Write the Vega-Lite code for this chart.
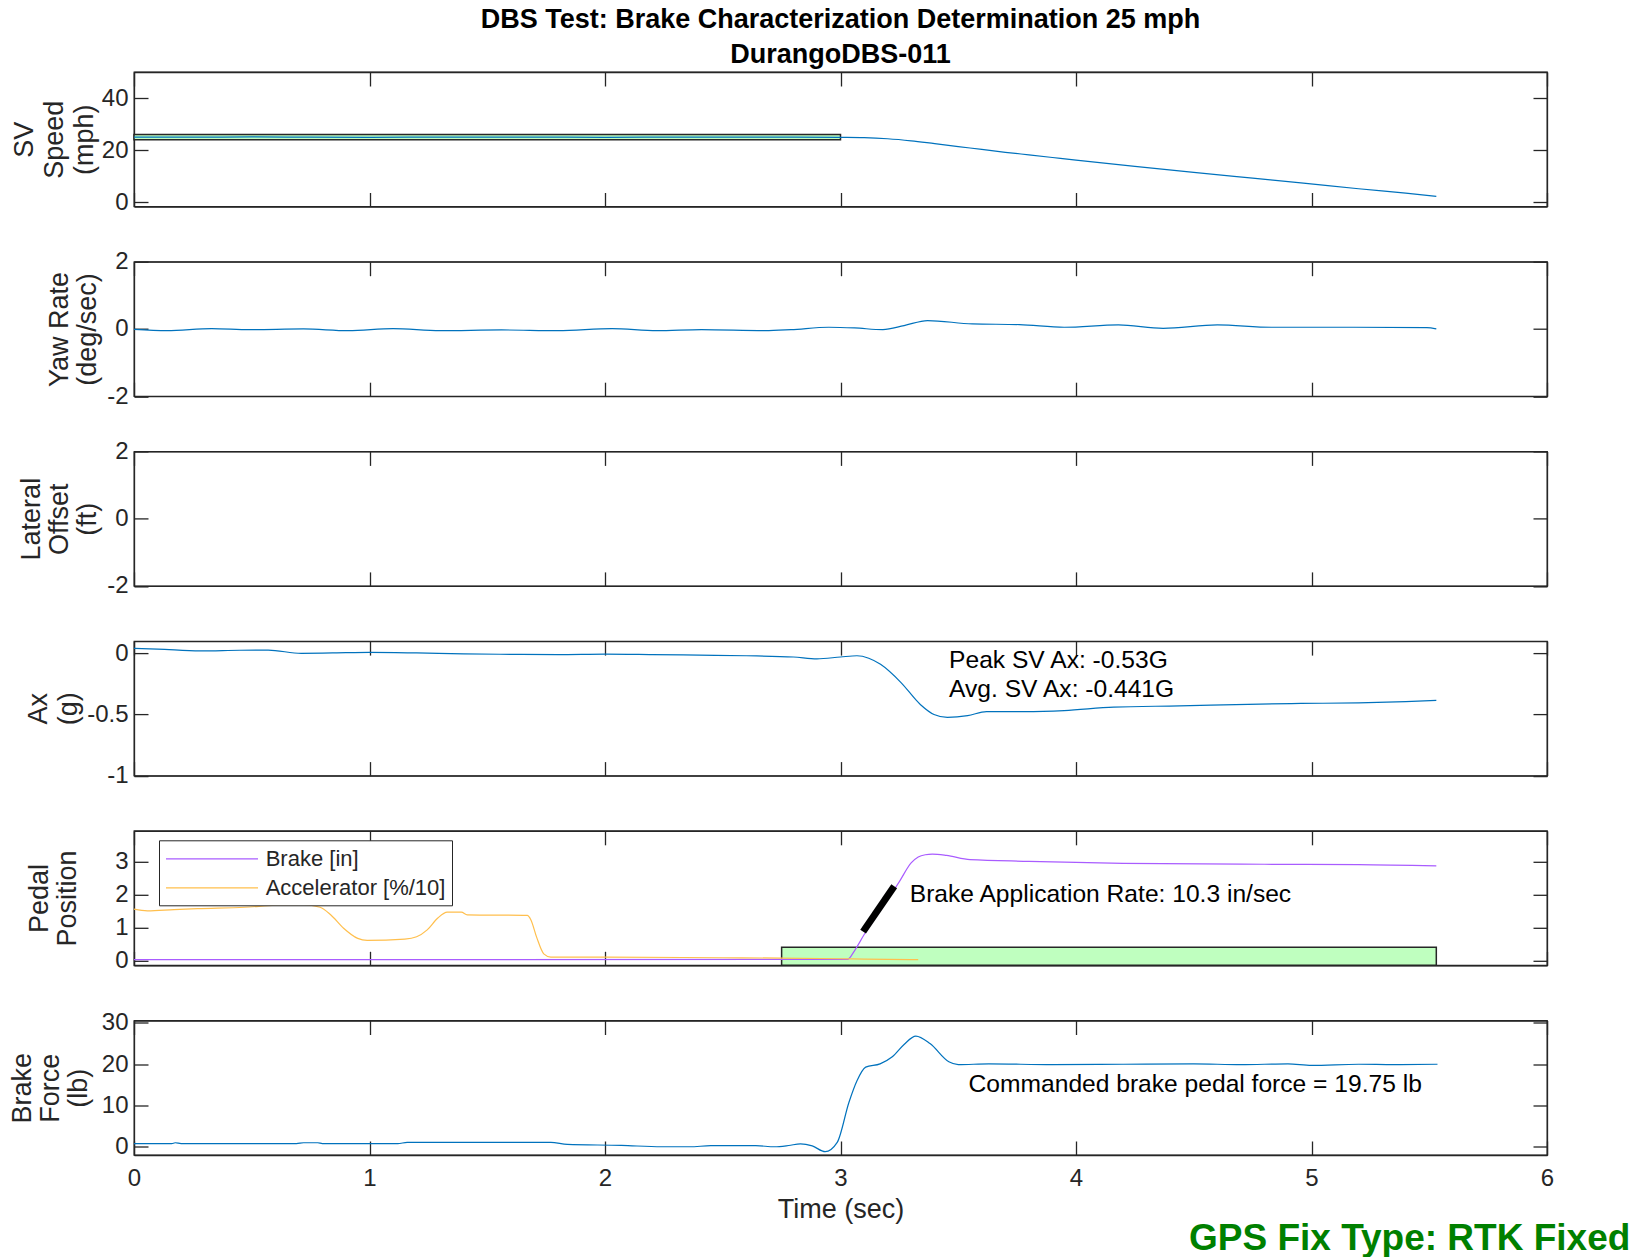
{
  "$schema": "https://vega.github.io/schema/vega-lite/v6.json",
  "background": "white",
  "padding": {"left": 7, "top": 5, "right": 3, "bottom": 3},
  "config": {
    "font": "Liberation Sans",
    "view": {"stroke": "#262626", "strokeWidth": 1.3},
    "axis": {"domainColor": "#262626", "domainWidth": 1.3, "tickColor": "#262626", "tickWidth": 1.3, "tickSize": -14, "labelFontSize": 24, "labelColor": "#262626", "labelFont": "Liberation Sans", "titleFont": "Liberation Sans", "titleFontSize": 27, "titleFontWeight": "normal", "titleColor": "#262626", "grid": false, "titleLineHeight": 28, "labelFlush": false, "labelOverlap": false, "labelExpr": "'' + datum.value"},
    "axisY": {"labelPadding": 20},
    "axisX": {"labelPadding": 25, "titlePadding": 6},
    "line": {"strokeWidth": 1.2, "interpolate": "monotone"},
    "text": {"font": "Liberation Sans"}
  },
  "title": {"text": "GPS Fix Type: RTK Fixed", "orient": "bottom", "anchor": "end", "fontSize": 37, "fontWeight": "bold", "color": "#008000", "font": "Liberation Sans", "dx": 76, "dy": -6},
  "spacing": 54.7,
  "bounds": "flush",
  "resolve": {"legend": {"color": "independent"}},
  "datasets": {
    "speed": [
      {"t": 0, "v": 25.05}, {"t": 0.25, "v": 25.0}, {"t": 0.5, "v": 25.1}, {"t": 0.75, "v": 25.0}, {"t": 1.0, "v": 24.95}, {"t": 1.25, "v": 25.0}, {"t": 1.5, "v": 25.05}, {"t": 1.75, "v": 25.0}, {"t": 2.0, "v": 24.95}, {"t": 2.25, "v": 25.0}, {"t": 2.5, "v": 25.05}, {"t": 2.75, "v": 25.0}, {"t": 3.0, "v": 24.9}, {"t": 3.1, "v": 24.8}, {"t": 3.2, "v": 24.4}, {"t": 3.3, "v": 23.6}, {"t": 3.4, "v": 22.5}, {"t": 3.5, "v": 21.4}, {"t": 3.6, "v": 20.3}, {"t": 3.7, "v": 19.2}, {"t": 3.8, "v": 18.2}, {"t": 3.9, "v": 17.2}, {"t": 4.0, "v": 16.2}, {"t": 4.25, "v": 13.8}, {"t": 4.5, "v": 11.5}, {"t": 4.75, "v": 9.3}, {"t": 4.955, "v": 7.5}, {"t": 5.2, "v": 5.2}, {"t": 5.4, "v": 3.5}, {"t": 5.53, "v": 2.3}
    ],
    "speedBox": [{"t0": 0, "t1": 3.0, "y0": 24, "y1": 26}],
    "yaw": [
      {"t": 0, "v": -0.01}, {"t": 0.14, "v": -0.05}, {"t": 0.33, "v": 0.01}, {"t": 0.49, "v": -0.02}, {"t": 0.72, "v": 0.0}, {"t": 0.91, "v": -0.05}, {"t": 1.1, "v": 0.01}, {"t": 1.3, "v": -0.05}, {"t": 1.56, "v": -0.03}, {"t": 1.8, "v": -0.05}, {"t": 2.03, "v": 0.01}, {"t": 2.22, "v": -0.05}, {"t": 2.41, "v": -0.02}, {"t": 2.68, "v": -0.05}, {"t": 2.79, "v": -0.02}, {"t": 2.95, "v": 0.05}, {"t": 3.06, "v": 0.03}, {"t": 3.18, "v": -0.02}, {"t": 3.27, "v": 0.1}, {"t": 3.37, "v": 0.25}, {"t": 3.56, "v": 0.15}, {"t": 3.76, "v": 0.13}, {"t": 3.95, "v": 0.05}, {"t": 4.18, "v": 0.12}, {"t": 4.37, "v": 0.02}, {"t": 4.6, "v": 0.12}, {"t": 4.83, "v": 0.05}, {"t": 5.18, "v": 0.05}, {"t": 5.49, "v": 0.04}, {"t": 5.53, "v": 0.0}
    ],
    "ax": [
      {"t": 0, "v": 0.04}, {"t": 0.1, "v": 0.035}, {"t": 0.28, "v": 0.02}, {"t": 0.45, "v": 0.025}, {"t": 0.57, "v": 0.026}, {"t": 0.71, "v": 0.0}, {"t": 0.9, "v": 0.005}, {"t": 1.0, "v": 0.008}, {"t": 1.2, "v": 0.003}, {"t": 1.4, "v": -0.005}, {"t": 1.6, "v": -0.008}, {"t": 1.8, "v": -0.01}, {"t": 2.0, "v": -0.006}, {"t": 2.2, "v": -0.01}, {"t": 2.4, "v": -0.015}, {"t": 2.6, "v": -0.02}, {"t": 2.8, "v": -0.03}, {"t": 2.9, "v": -0.045}, {"t": 3.0, "v": -0.03}, {"t": 3.07, "v": -0.02}, {"t": 3.12, "v": -0.04}, {"t": 3.17, "v": -0.09}, {"t": 3.256, "v": -0.237}, {"t": 3.34, "v": -0.42}, {"t": 3.397, "v": -0.5}, {"t": 3.454, "v": -0.524}, {"t": 3.54, "v": -0.51}, {"t": 3.62, "v": -0.476}, {"t": 3.78, "v": -0.476}, {"t": 3.95, "v": -0.468}, {"t": 4.16, "v": -0.44}, {"t": 4.44, "v": -0.43}, {"t": 4.73, "v": -0.417}, {"t": 4.955, "v": -0.41}, {"t": 5.2, "v": -0.405}, {"t": 5.4, "v": -0.395}, {"t": 5.53, "v": -0.385}
    ],
    "axText": [
      {"t": 3.461, "v": -0.062, "label": "Peak SV Ax: -0.53G"},
      {"t": 3.461, "v": -0.3, "label": "Avg. SV Ax: -0.441G"}
    ],
    "pedal": [
      {"s": "Brake [in]", "t": 0, "v": 0.02}, {"s": "Brake [in]", "t": 3.03, "v": 0.03}, {"s": "Brake [in]", "t": 3.06, "v": 0.3}, {"s": "Brake [in]", "t": 3.1, "v": 0.78}, {"s": "Brake [in]", "t": 3.15, "v": 1.32}, {"s": "Brake [in]", "t": 3.2, "v": 1.85}, {"s": "Brake [in]", "t": 3.25, "v": 2.4}, {"s": "Brake [in]", "t": 3.3, "v": 2.97}, {"s": "Brake [in]", "t": 3.33, "v": 3.15}, {"s": "Brake [in]", "t": 3.36, "v": 3.22}, {"s": "Brake [in]", "t": 3.39, "v": 3.24}, {"s": "Brake [in]", "t": 3.45, "v": 3.2}, {"s": "Brake [in]", "t": 3.55, "v": 3.07}, {"s": "Brake [in]", "t": 3.8, "v": 3.02}, {"s": "Brake [in]", "t": 4.2, "v": 2.96}, {"s": "Brake [in]", "t": 4.8, "v": 2.93}, {"s": "Brake [in]", "t": 5.2, "v": 2.92}, {"s": "Brake [in]", "t": 5.53, "v": 2.88},
      {"s": "Accelerator [%/10]", "t": 0, "v": 1.56}, {"s": "Accelerator [%/10]", "t": 0.057, "v": 1.51}, {"s": "Accelerator [%/10]", "t": 0.17, "v": 1.55}, {"s": "Accelerator [%/10]", "t": 0.27, "v": 1.58}, {"s": "Accelerator [%/10]", "t": 0.47, "v": 1.62}, {"s": "Accelerator [%/10]", "t": 0.6, "v": 1.68}, {"s": "Accelerator [%/10]", "t": 0.72, "v": 1.7}, {"s": "Accelerator [%/10]", "t": 0.79, "v": 1.62}, {"s": "Accelerator [%/10]", "t": 0.835, "v": 1.39}, {"s": "Accelerator [%/10]", "t": 0.89, "v": 0.98}, {"s": "Accelerator [%/10]", "t": 0.95, "v": 0.67}, {"s": "Accelerator [%/10]", "t": 0.99, "v": 0.61}, {"s": "Accelerator [%/10]", "t": 1.15, "v": 0.65}, {"s": "Accelerator [%/10]", "t": 1.2, "v": 0.72}, {"s": "Accelerator [%/10]", "t": 1.245, "v": 0.93}, {"s": "Accelerator [%/10]", "t": 1.29, "v": 1.29}, {"s": "Accelerator [%/10]", "t": 1.33, "v": 1.47}, {"s": "Accelerator [%/10]", "t": 1.39, "v": 1.47}, {"s": "Accelerator [%/10]", "t": 1.415, "v": 1.39}, {"s": "Accelerator [%/10]", "t": 1.67, "v": 1.37}, {"s": "Accelerator [%/10]", "t": 1.685, "v": 1.24}, {"s": "Accelerator [%/10]", "t": 1.71, "v": 0.7}, {"s": "Accelerator [%/10]", "t": 1.74, "v": 0.2}, {"s": "Accelerator [%/10]", "t": 1.77, "v": 0.1}, {"s": "Accelerator [%/10]", "t": 2.0, "v": 0.1}, {"s": "Accelerator [%/10]", "t": 2.5, "v": 0.08}, {"s": "Accelerator [%/10]", "t": 2.75, "v": 0.07}, {"s": "Accelerator [%/10]", "t": 3.0, "v": 0.05}, {"s": "Accelerator [%/10]", "t": 3.1, "v": 0.04}, {"s": "Accelerator [%/10]", "t": 3.33, "v": 0.02}
    ],
    "pedalBox": [{"t0": 2.75, "t1": 5.53, "y0": -0.15, "y1": 0.4}],
    "rate": [{"t": 3.096, "v": 0.877, "t2": 3.228, "v2": 2.26}],
    "pedalText": [{"t": 3.294, "v": 2.0, "label": "Brake Application Rate: 10.3 in/sec"}],
    "force": [
      {"t": 0, "v": 0.75}, {"t": 0.16, "v": 0.75}, {"t": 0.175, "v": 0.97}, {"t": 0.2, "v": 0.75}, {"t": 0.69, "v": 0.75}, {"t": 0.72, "v": 0.97}, {"t": 0.78, "v": 0.97}, {"t": 0.8, "v": 0.75}, {"t": 1.12, "v": 0.75}, {"t": 1.16, "v": 1.05}, {"t": 1.77, "v": 1.05}, {"t": 1.84, "v": 0.57}, {"t": 2.07, "v": 0.33}, {"t": 2.24, "v": 0.0}, {"t": 2.36, "v": 0.0}, {"t": 2.45, "v": 0.25}, {"t": 2.64, "v": 0.25}, {"t": 2.72, "v": 0.0}, {"t": 2.78, "v": 0.3}, {"t": 2.83, "v": 0.7}, {"t": 2.88, "v": 0.2}, {"t": 2.935, "v": -1.2}, {"t": 2.986, "v": 1.05}, {"t": 3.036, "v": 10.8}, {"t": 3.07, "v": 16.0}, {"t": 3.107, "v": 19.3}, {"t": 3.168, "v": 20.1}, {"t": 3.22, "v": 21.8}, {"t": 3.27, "v": 24.8}, {"t": 3.32, "v": 26.8}, {"t": 3.38, "v": 25.0}, {"t": 3.46, "v": 20.6}, {"t": 3.5, "v": 19.9}, {"t": 3.63, "v": 20.1}, {"t": 3.9, "v": 19.9}, {"t": 4.2, "v": 20.0}, {"t": 4.5, "v": 20.1}, {"t": 4.7, "v": 19.9}, {"t": 4.9, "v": 20.1}, {"t": 5.0, "v": 19.7}, {"t": 5.2, "v": 20.0}, {"t": 5.35, "v": 19.9}, {"t": 5.535, "v": 20.0}
    ],
    "forceText": [{"t": 3.544, "v": 14.95, "label": "Commanded brake pedal force = 19.75 lb"}]
  },
  "vconcat": [
    {
      "width": 1413, "height": 134.5,
      "title": {"text": ["DBS Test: Brake Characterization Determination 25 mph", "DurangoDBS-011"], "fontSize": 27, "fontWeight": "bold", "color": "black", "lineHeight": 35, "offset": 2, "anchor": "middle", "frame": "group", "font": "Liberation Sans"},
      "layer": [
        {"data": {"name": "speedBox"}, "mark": {"type": "rect", "fill": "#bfffbf", "stroke": "#262626", "strokeWidth": 1.5},
         "encoding": {"x": {"field": "t0", "type": "quantitative", "scale": {"domain": [0, 6], "nice": false}, "axis": null}, "x2": {"field": "t1"},
                      "y": {"field": "y0", "type": "quantitative", "scale": {"domain": [-1.6, 50], "nice": false, "zero": false}, "axis": null}, "y2": {"field": "y1"}}},
        {"data": {"name": "speed"}, "mark": {"type": "line", "color": "#0072bd"},
         "encoding": {"x": {"field": "t", "type": "quantitative", "scale": {"domain": [0, 6], "nice": false}, "axis": {"orient": "bottom", "values": [0, 1, 2, 3, 4, 5, 6], "labels": false, "title": null}},
                      "y": {"field": "v", "type": "quantitative", "scale": {"domain": [-1.6, 50], "nice": false, "zero": false}, "axis": {"orient": "left", "values": [0, 20, 40], "title": ["SV", "Speed", "(mph)"], "titlePadding": 3, "titleLineHeight": 30}}}},
        {"data": {"values": []}, "mark": "point",
         "encoding": {"x": {"field": "t", "type": "quantitative", "scale": {"domain": [0, 6], "nice": false}, "axis": {"orient": "top", "values": [0, 1, 2, 3, 4, 5, 6], "labels": false, "title": null}},
                      "y": {"field": "v", "type": "quantitative", "scale": {"domain": [-1.6, 50], "nice": false, "zero": false}, "axis": {"orient": "right", "values": [0, 20, 40], "labels": false, "title": null}}}}
      ],
      "resolve": {"axis": {"x": "independent", "y": "independent"}}
    },
    {
      "width": 1413, "height": 134.5,
      "layer": [
        {"data": {"name": "yaw"}, "mark": {"type": "line", "color": "#0072bd"},
         "encoding": {"x": {"field": "t", "type": "quantitative", "scale": {"domain": [0, 6], "nice": false}, "axis": {"orient": "bottom", "values": [0, 1, 2, 3, 4, 5, 6], "labels": false, "title": null}},
                      "y": {"field": "v", "type": "quantitative", "scale": {"domain": [-2, 2], "nice": false, "zero": false}, "axis": {"orient": "left", "values": [-2, 0, 2], "title": ["Yaw Rate", "(deg/sec)"], "titlePadding": 5}}}},
        {"data": {"values": []}, "mark": "point",
         "encoding": {"x": {"field": "t", "type": "quantitative", "scale": {"domain": [0, 6], "nice": false}, "axis": {"orient": "top", "values": [0, 1, 2, 3, 4, 5, 6], "labels": false, "title": null}},
                      "y": {"field": "v", "type": "quantitative", "scale": {"domain": [-2, 2], "nice": false, "zero": false}, "axis": {"orient": "right", "values": [-2, 0, 2], "labels": false, "title": null}}}}
      ],
      "resolve": {"axis": {"x": "independent", "y": "independent"}}
    },
    {
      "width": 1413, "height": 134.5,
      "layer": [
        {"data": {"values": []}, "mark": {"type": "line", "color": "#0072bd"},
         "encoding": {"x": {"field": "t", "type": "quantitative", "scale": {"domain": [0, 6], "nice": false}, "axis": {"orient": "bottom", "values": [0, 1, 2, 3, 4, 5, 6], "labels": false, "title": null}},
                      "y": {"field": "v", "type": "quantitative", "scale": {"domain": [-2, 2], "nice": false, "zero": false}, "axis": {"orient": "left", "values": [-2, 0, 2], "title": ["Lateral", "Offset", "(ft)"], "titlePadding": 5}}}},
        {"data": {"values": []}, "mark": "point",
         "encoding": {"x": {"field": "t", "type": "quantitative", "scale": {"domain": [0, 6], "nice": false}, "axis": {"orient": "top", "values": [0, 1, 2, 3, 4, 5, 6], "labels": false, "title": null}},
                      "y": {"field": "v", "type": "quantitative", "scale": {"domain": [-2, 2], "nice": false, "zero": false}, "axis": {"orient": "right", "values": [-2, 0, 2], "labels": false, "title": null}}}}
      ],
      "resolve": {"axis": {"x": "independent", "y": "independent"}}
    },
    {
      "width": 1413, "height": 134.5,
      "layer": [
        {"data": {"name": "ax"}, "mark": {"type": "line", "color": "#0072bd"},
         "encoding": {"x": {"field": "t", "type": "quantitative", "scale": {"domain": [0, 6], "nice": false}, "axis": {"orient": "bottom", "values": [0, 1, 2, 3, 4, 5, 6], "labels": false, "title": null}},
                      "y": {"field": "v", "type": "quantitative", "scale": {"domain": [-1, 0.1], "nice": false, "zero": false}, "axis": {"orient": "left", "values": [-1, -0.5, 0], "title": ["Ax", "(g)"], "titlePadding": 4.6, "titleLineHeight": 30}}}},
        {"data": {"name": "axText"}, "mark": {"type": "text", "align": "left", "baseline": "middle", "fontSize": 24.6, "color": "#000000"},
         "encoding": {"x": {"field": "t", "type": "quantitative", "scale": {"domain": [0, 6], "nice": false}, "axis": null},
                      "y": {"field": "v", "type": "quantitative", "scale": {"domain": [-1, 0.1], "nice": false, "zero": false}, "axis": null},
                      "text": {"field": "label"}}},
        {"data": {"values": []}, "mark": "point",
         "encoding": {"x": {"field": "t", "type": "quantitative", "scale": {"domain": [0, 6], "nice": false}, "axis": {"orient": "top", "values": [0, 1, 2, 3, 4, 5, 6], "labels": false, "title": null}},
                      "y": {"field": "v", "type": "quantitative", "scale": {"domain": [-1, 0.1], "nice": false, "zero": false}, "axis": {"orient": "right", "values": [-1, -0.5, 0], "labels": false, "title": null}}}}
      ],
      "resolve": {"axis": {"x": "independent", "y": "independent"}}
    },
    {
      "width": 1413, "height": 134.5,
      "layer": [
        {"data": {"name": "pedalBox"}, "mark": {"type": "rect", "fill": "#bfffbf", "stroke": "#262626", "strokeWidth": 1.5},
         "encoding": {"x": {"field": "t0", "type": "quantitative", "scale": {"domain": [0, 6], "nice": false}, "axis": null}, "x2": {"field": "t1"},
                      "y": {"field": "y0", "type": "quantitative", "scale": {"domain": [-0.15, 3.95], "nice": false, "zero": false}, "axis": null}, "y2": {"field": "y1"}}},
        {"data": {"name": "pedal"}, "mark": {"type": "line"},
         "encoding": {"x": {"field": "t", "type": "quantitative", "scale": {"domain": [0, 6], "nice": false}, "axis": {"orient": "bottom", "values": [0, 1, 2, 3, 4, 5, 6], "labels": false, "title": null}},
                      "y": {"field": "v", "type": "quantitative", "scale": {"domain": [-0.15, 3.95], "nice": false, "zero": false}, "axis": {"orient": "left", "values": [0, 1, 2, 3], "title": ["Pedal", "Position"], "titlePadding": 33}},
                      "color": {"field": "s", "type": "nominal", "scale": {"domain": ["Brake [in]", "Accelerator [%/10]"], "range": ["#a95cff", "#ffbf4d"]},
                                "legend": {"orient": "none", "legendX": 25, "legendY": 9.5, "title": null, "symbolType": "M-1,0H7", "symbolSize": 529, "symbolStrokeWidth": 1.2, "labelOffset": 75.7, "labelFontSize": 22, "labelLimit": 400, "labelColor": "#262626", "labelFont": "Liberation Sans", "strokeColor": "#262626", "fillColor": "white", "padding": 6, "rowPadding": 5}}}},
        {"data": {"name": "rate"}, "mark": {"type": "rule", "color": "black", "strokeWidth": 7},
         "encoding": {"x": {"field": "t", "type": "quantitative", "scale": {"domain": [0, 6], "nice": false}, "axis": null}, "x2": {"field": "t2"},
                      "y": {"field": "v", "type": "quantitative", "scale": {"domain": [-0.15, 3.95], "nice": false, "zero": false}, "axis": null}, "y2": {"field": "v2"}}},
        {"data": {"name": "pedalText"}, "mark": {"type": "text", "align": "left", "baseline": "middle", "fontSize": 24.6, "color": "#000000"},
         "encoding": {"x": {"field": "t", "type": "quantitative", "scale": {"domain": [0, 6], "nice": false}, "axis": null},
                      "y": {"field": "v", "type": "quantitative", "scale": {"domain": [-0.15, 3.95], "nice": false, "zero": false}, "axis": null},
                      "text": {"field": "label"}}},
        {"data": {"values": []}, "mark": "point",
         "encoding": {"x": {"field": "t", "type": "quantitative", "scale": {"domain": [0, 6], "nice": false}, "axis": {"orient": "top", "values": [0, 1, 2, 3, 4, 5, 6], "labels": false, "title": null}},
                      "y": {"field": "v", "type": "quantitative", "scale": {"domain": [-0.15, 3.95], "nice": false, "zero": false}, "axis": {"orient": "right", "values": [0, 1, 2, 3], "labels": false, "title": null}}}}
      ],
      "resolve": {"axis": {"x": "independent", "y": "independent"}}
    },
    {
      "width": 1413, "height": 134.5,
      "layer": [
        {"data": {"name": "force"}, "mark": {"type": "line", "color": "#0072bd"},
         "encoding": {"x": {"field": "t", "type": "quantitative", "scale": {"domain": [0, 6], "nice": false}, "axis": {"orient": "bottom", "values": [0, 1, 2, 3, 4, 5, 6], "title": "Time (sec)"}},
                      "y": {"field": "v", "type": "quantitative", "scale": {"domain": [-2, 30.6], "nice": false, "zero": false}, "axis": {"orient": "left", "values": [0, 10, 20, 30], "title": ["Brake", "Force", "(lb)"], "titlePadding": 9}}}},
        {"data": {"name": "forceText"}, "mark": {"type": "text", "align": "left", "baseline": "middle", "fontSize": 24.6, "color": "#000000"},
         "encoding": {"x": {"field": "t", "type": "quantitative", "scale": {"domain": [0, 6], "nice": false}, "axis": null},
                      "y": {"field": "v", "type": "quantitative", "scale": {"domain": [-2, 30.6], "nice": false, "zero": false}, "axis": null},
                      "text": {"field": "label"}}},
        {"data": {"values": []}, "mark": "point",
         "encoding": {"x": {"field": "t", "type": "quantitative", "scale": {"domain": [0, 6], "nice": false}, "axis": {"orient": "top", "values": [0, 1, 2, 3, 4, 5, 6], "labels": false, "title": null}},
                      "y": {"field": "v", "type": "quantitative", "scale": {"domain": [-2, 30.6], "nice": false, "zero": false}, "axis": {"orient": "right", "values": [0, 10, 20, 30], "labels": false, "title": null}}}}
      ],
      "resolve": {"axis": {"x": "independent", "y": "independent"}}
    }
  ]
}
